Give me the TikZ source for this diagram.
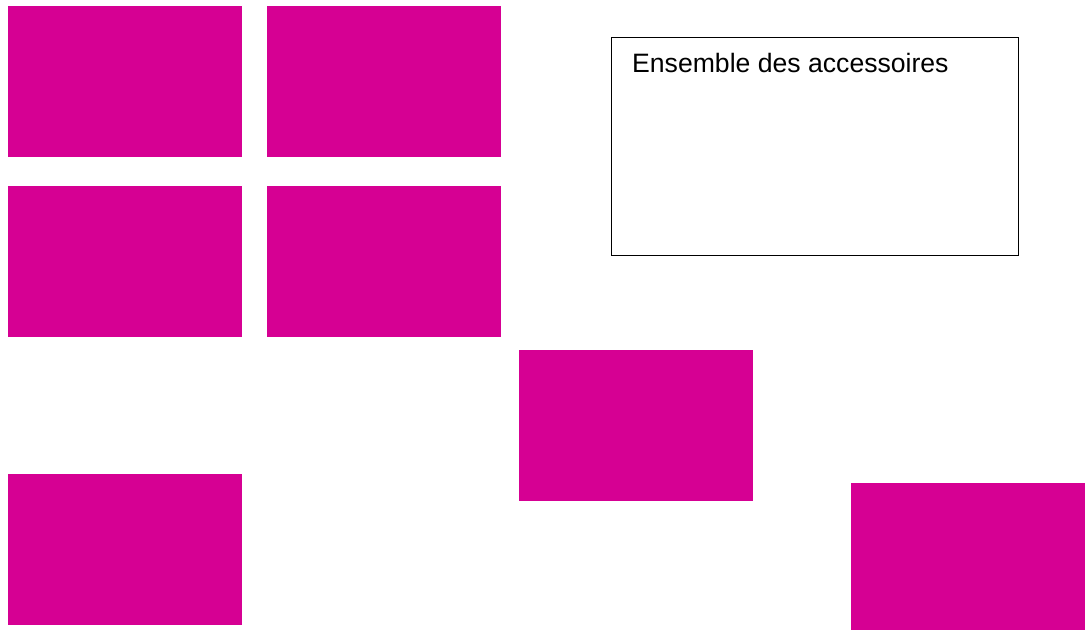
\documentclass[tikz,border=0pt]{standalone}
\usepackage{fontspec}
\setmainfont{Liberation Sans}
\usetikzlibrary{positioning}
\definecolor{magenta}{RGB}{214,0,147}

\begin{document}
\begin{tikzpicture}[
  x=1pt,y=-1pt,
  node distance=28.5pt and 24.5pt,
  tile/.style={fill=magenta,inner sep=0pt,minimum width=234pt,minimum height=151pt,anchor=north west},
  frame/.style={draw,line width=0.8pt,inner sep=0pt,minimum width=407pt,minimum height=218pt,anchor=north west},
  label/.style={font=\fontsize{26.6}{30}\selectfont,anchor=base west,inner sep=0pt}
]
  \useasboundingbox (0,0) rectangle (1085,630);
  \node[tile] (a) at (8,6) {};
  \node[tile,right=of a] (b) {};
  \node[tile,below=of a] (c) {};
  \node[tile,right=of c] (d) {};
  \node[tile] (e) at (519,350) {};
  \node[tile] (f) at (8,474) {};
  \node[tile,minimum height=147pt] (g) at (851,483) {};
  \node[frame] (acc) at (611,37) {};
  \node[label] (acct) at (632,72) {Ensemble des accessoires};
\end{tikzpicture}
\end{document}
